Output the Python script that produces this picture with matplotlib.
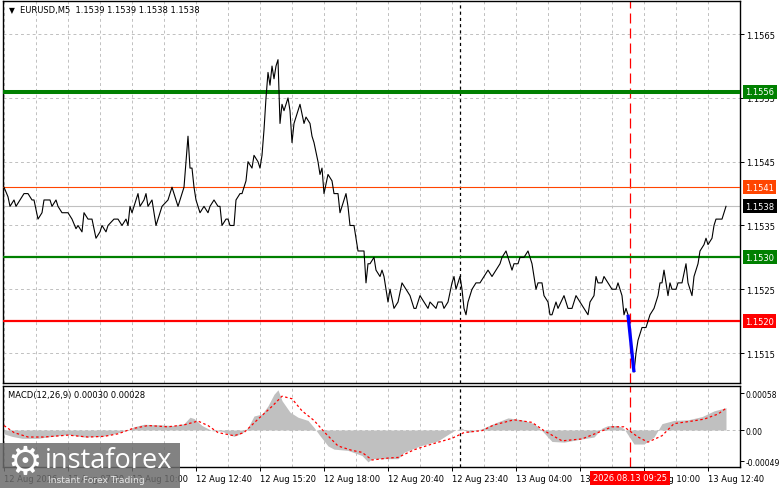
import numpy as np
import matplotlib
matplotlib.use("Agg")
import matplotlib.pyplot as plt
from matplotlib.patches import Rectangle
from matplotlib.transforms import blended_transform_factory

plt.rcParams['font.family'] = ['DejaVu Sans']
plt.rcParams['font.size'] = 6

W, H = 781, 489

# close prices (5-minute bar index -> price)
price_bar = [0, 2, 3, 5, 6, 8, 10, 12, 14, 15,
             17, 19, 20, 23, 24, 26, 27, 29, 32, 34,
             36, 37, 39, 40, 42, 44, 46, 48, 49, 51,
             52, 55, 57, 59, 61, 62, 63, 64, 66, 67,
             68, 70, 71, 72, 74, 75, 76, 78, 79, 82,
             84, 85, 87, 88, 90, 91, 92, 93, 94, 95,
             96, 98, 100, 102, 103, 105, 107, 108, 109, 111,
             112, 113, 115, 116, 118, 119, 121, 122, 124, 125,
             127, 128, 129, 130, 131, 132, 133, 134, 135, 136,
             137, 138, 139, 140, 142, 143, 144, 145, 147, 148,
             150, 151, 153, 154, 155, 157, 158, 159, 160, 162,
             164, 165, 167, 168, 170, 171, 172, 173, 175, 176,
             177, 180, 181, 182, 183, 185, 186, 188, 189, 190,
             192, 193, 195, 197, 199, 201, 203, 205, 206, 208,
             210, 212, 213, 216, 217, 219, 220, 222, 224, 225,
             226, 228, 229, 230, 231, 232, 234, 236, 238, 240,
             242, 244, 246, 248, 249, 251, 252, 253, 254, 255,
             257, 258, 260, 262, 264, 265, 266, 267, 269, 270,
             272, 273, 274, 276, 277, 280, 282, 284, 286, 288,
             290, 292, 293, 295, 296, 297, 299, 300, 302, 304,
             306, 307, 309, 310, 311, 312, 313, 314, 315, 316,
             317, 318, 319, 321, 322, 323, 325, 327, 328, 329,
             330, 332, 333, 334, 336, 337, 339, 341, 342, 343,
             344, 345, 347, 348, 350, 351, 352, 354, 355, 356,
             359, 360, 361]
price_close = [1.1541, 1.15395, 1.1538, 1.1539, 1.1538, 1.1539, 1.1540, 1.1540, 1.1539, 1.1539,
               1.1536, 1.1537, 1.1539, 1.1539, 1.1538, 1.1539, 1.1538, 1.1537, 1.1537, 1.1536,
               1.15345, 1.1535, 1.1534, 1.1537, 1.1536, 1.1536, 1.1533, 1.1534, 1.1535, 1.1534,
               1.1535, 1.1536, 1.1536, 1.1535, 1.1536, 1.1535, 1.1538, 1.1537, 1.1539, 1.1540,
               1.1538, 1.1539, 1.1540, 1.1538, 1.1539, 1.1537, 1.1535, 1.1537, 1.1538, 1.1539,
               1.1541, 1.1540, 1.1538, 1.1539, 1.1541, 1.1545, 1.1549, 1.1544, 1.1544, 1.1541,
               1.1539, 1.1537, 1.1538, 1.1537, 1.1538, 1.1539, 1.1538, 1.1538, 1.1535, 1.1536,
               1.1536, 1.1535, 1.1535, 1.1539, 1.1540, 1.1540, 1.1542, 1.1545, 1.1544, 1.1546,
               1.1545, 1.1544, 1.1546, 1.1550, 1.1555, 1.1559, 1.1557, 1.1560, 1.1558, 1.1560,
               1.1561, 1.1551, 1.1554, 1.1553, 1.1555, 1.1553, 1.1548, 1.1551, 1.1553, 1.1554,
               1.1551, 1.1552, 1.1551, 1.1549, 1.1548, 1.1545, 1.1543, 1.1544, 1.1540, 1.1543,
               1.1542, 1.1540, 1.1540, 1.1537, 1.1539, 1.1540, 1.1538, 1.1535, 1.1535, 1.1533,
               1.1531, 1.1531, 1.1526, 1.1529, 1.1529, 1.1530, 1.1528, 1.1527, 1.1528, 1.1527,
               1.1523, 1.1525, 1.1522, 1.1523, 1.1526, 1.1525, 1.1524, 1.1522, 1.1522, 1.1524,
               1.1523, 1.1522, 1.1523, 1.1522, 1.1523, 1.1523, 1.1522, 1.1523, 1.1526, 1.1527,
               1.1525, 1.1527, 1.1525, 1.1522, 1.1521, 1.1523, 1.1525, 1.1526, 1.1526, 1.1527,
               1.1528, 1.1527, 1.1528, 1.1529, 1.1530, 1.1531, 1.1530, 1.1529, 1.1528, 1.1529,
               1.1529, 1.1530, 1.1530, 1.1531, 1.1529, 1.1527, 1.1525, 1.1526, 1.1526, 1.1524,
               1.1523, 1.1521, 1.1521, 1.1523, 1.1522, 1.1524, 1.1522, 1.1522, 1.1524, 1.1523,
               1.1522, 1.1521, 1.1523, 1.1524, 1.1527, 1.1526, 1.1526, 1.1527, 1.1526, 1.1525,
               1.1525, 1.1526, 1.1524, 1.1521, 1.1522, 1.1521, 1.1518, 1.1515, 1.1512, 1.1515,
               1.1517, 1.1518, 1.1519, 1.1519, 1.1520, 1.1521, 1.1522, 1.1524, 1.1526, 1.1526,
               1.1528, 1.1524, 1.1526, 1.1525, 1.1525, 1.1526, 1.1526, 1.1529, 1.1526, 1.1525,
               1.1524, 1.1527, 1.1529, 1.1531, 1.1532, 1.1533, 1.1532, 1.1533, 1.1535, 1.1536,
               1.1536, 1.1537, 1.1538]

# highlighted bars around the signal time (drawn blue)
signal_bars = [312, 313, 314, 315]

# MACD histogram and signal line
hist_bar = [0, 4, 9, 17, 24, 32, 40, 49, 55, 62,
            65, 70, 79, 85, 90, 93, 95, 99, 104, 109,
            115, 119, 122, 125, 129, 132, 135, 137, 139, 143,
            147, 152, 155, 158, 162, 165, 172, 179, 182, 184,
            188, 197, 200, 208, 217, 225, 229, 232, 239, 244,
            252, 259, 265, 269, 274, 280, 289, 295, 299, 302,
            307, 310, 315, 320, 325, 329, 335, 342, 349, 355,
            361]
hist_val = [-0.00006, -0.00010, -0.00013, -0.00013, -0.00010, -0.00007, -0.00011, -0.00010, -0.00006, 0.0,
            0.00005, 0.00009, 0.00008, 0.00007, 0.00010, 0.00020, 0.00018, 0.00007, -0.00001, -0.00002,
            -0.00010, -0.00005, 0.00004, 0.00022, 0.00025, 0.00038, 0.00056, 0.00063, 0.00046, 0.00028,
            0.00020, 0.00015, 0.00004, -0.00009, -0.00025, -0.00030, -0.00032, -0.00040, -0.00050, -0.00045,
            -0.00045, -0.00045, -0.00035, -0.00025, -0.00017, -0.00001, 0.00003, -0.00004, 0.00002, 0.00009,
            0.00019, 0.00016, 0.00010, -0.00001, -0.00018, -0.00019, -0.00014, -0.00011, 0.00003, 0.00007,
            0.00007, 0.00002, -0.00022, -0.00022, -0.00011, 0.00010, 0.00015, 0.00016, 0.00021, 0.00030,
            0.00035]
sig_bar = [0, 5, 12, 20, 32, 42, 50, 57, 64, 72,
           82, 90, 97, 102, 107, 115, 120, 127, 134, 139,
           144, 149, 155, 161, 167, 174, 179, 184, 192, 197,
           205, 214, 224, 230, 239, 245, 255, 264, 270, 279,
           289, 297, 304, 310, 317, 322, 329, 335, 344, 350,
           357, 361]
sig_val = [0.00007, -0.00004, -0.00011, -0.00011, -0.00008, -0.00011, -0.00010, -0.00006, 0.00002, 0.00007,
           0.00005, 0.00008, 0.00014, 0.00007, -0.00004, -0.00009, -0.00004, 0.00017, 0.00037, 0.00053,
           0.00049, 0.00030, 0.00015, -0.00006, -0.00025, -0.00032, -0.00035, -0.00047, -0.00044, -0.00043,
           -0.00031, -0.00022, -0.00013, -0.00004, -0.00001, 0.00008, 0.00016, 0.00012, -0.00001, -0.00017,
           -0.00014, -0.00004, 0.00005, 0.00005, -0.00011, -0.00019, -0.00009, 0.00010, 0.00014, 0.00017,
           0.00025, 0.00034]

# x axis labels
time_ticks = [0, 32, 64, 96, 128, 160, 192, 224, 256, 288, 320, 352]
time_labels = ['12 Aug 2026', '12 Aug 07:20', '12 Aug 10:00', '12 Aug 12:40', '12 Aug 15:20',
               '12 Aug 18:00', '12 Aug 20:40', '12 Aug 23:40', '13 Aug 04:00', '13 Aug 06:40',
               '13 Aug 10:00', '13 Aug 12:40']
day_break_bar = 228
signal_time_bar = 313
signal_time_label = '2026.08.13 09:25'

price_ticks = [1.1515, 1.1525, 1.1535, 1.1545, 1.1555, 1.1565]
macd_ticks = [0.00058, 0.0, -0.00049]
macd_tick_labels = ['0.00058', '0.00', '-0.00049']

# horizontal levels: value, colour, width, label colour
levels = [(1.1556, '#008000', 2.9, '#008000'),
          (1.1541, '#ff4500', 0.8, '#ff4500'),
          (1.1530, '#008000', 1.6, '#008000'),
          (1.1520, '#ff0000', 1.6, '#ff0000')]
bid = 1.1538

GRID = '#c0c0c0'

fig = plt.figure(figsize=(W / 100, H / 100), dpi=100)
ax = fig.add_axes([3 / W, (H - 384) / H, 737 / W, 382 / H])
ax2 = fig.add_axes([3 / W, (H - 468) / H, 737 / W, 81 / H])

x_lo, x_hi = -0.5, 368
minor_ticks = list(range(16, 368, 32))

for a in (ax, ax2):
    a.set_xlim(x_lo, x_hi)
    a.set_xticks(time_ticks)
    a.set_xticks(minor_ticks, minor=True)
    a.grid(axis='x', which='both', color=GRID, ls=(0, (3, 3)), lw=0.7)
    a.yaxis.tick_right()
    a.tick_params(axis='y', direction='out', length=3, width=0.7, pad=1.5, labelsize=6)
    a.tick_params(axis='x', which='minor', length=0)
    for s in a.spines.values():
        s.set_linewidth(1.0)
    a.set_axisbelow(True)
    a.axvline(day_break_bar, color='black', ls=(0, (2.5, 2.5)), lw=0.9, zorder=1)
    a.axvline(signal_time_bar, color='red', ls=(0, (8, 4)), lw=0.9, zorder=1)

# main price panel
ax.set_ylim(1.15103, 1.15702)
ax.set_yticks(price_ticks)
ax.set_yticklabels([f'{v:.4f}' for v in price_ticks])
ax.grid(axis='y', color=GRID, ls=(0, (3, 3)), lw=0.7)
ax.tick_params(axis='x', which='both', length=0, labelbottom=False)

ax.axhline(bid, color='#c0c0c0', lw=0.8, zorder=2)
for val, col, lw, _ in levels:
    ax.axhline(val, color=col, lw=lw, zorder=3)

ax.plot(price_bar, price_close, color='black', lw=0.8, zorder=4)
i0 = price_bar.index(signal_bars[0])
i1 = price_bar.index(signal_bars[-1])
ax.plot(price_bar[i0:i1 + 1], price_close[i0:i1 + 1], color='#0000ff', lw=2.4,
        solid_capstyle='butt', zorder=5)

ytr = blended_transform_factory(ax.transAxes, ax.transData)
lx = 1 + 5 / 737
for val, _, _, lcol in levels:
    ax.text(lx, val, f'{val:.4f}', transform=ytr, color='white', fontsize=6,
            ha='left', va='center', zorder=10, clip_on=False,
            bbox=dict(boxstyle='square,pad=0.3', fc=lcol, ec='none'))
ax.text(lx, bid, f'{bid:.4f}', transform=ytr, color='white', fontsize=6,
        ha='left', va='center', zorder=10, clip_on=False,
        bbox=dict(boxstyle='square,pad=0.3', fc='black', ec='none'))

ax.text(6 / 737, 1 - 9 / 382, '\u25bc', transform=ax.transAxes, fontsize=5.5,
        ha='left', va='center')
ax.text(17 / 737, 1 - 9 / 382, 'EURUSD,M5  1.1539 1.1539 1.1538 1.1538',
        transform=ax.transAxes, fontsize=6, ha='left', va='center')

# MACD panel
ax2.set_ylim(-0.00058, 0.00069)
ax2.set_yticks(macd_ticks)
ax2.set_yticklabels(macd_tick_labels)
ax2.tick_params(axis='y', labelsize=5.5, pad=1)
ax2.axhline(0, color=GRID, ls=(0, (3, 3)), lw=0.7, zorder=0)
ax2.fill_between(hist_bar, 0, hist_val, color='#c0c0c0', lw=0, zorder=2)
ax2.plot(sig_bar, sig_val, color='red', ls=(0, (2, 2)), lw=0.9, zorder=3)
ax2.set_xticklabels(time_labels)
ax2.tick_params(axis='x', which='major', length=3, width=0.7, pad=2, labelsize=6)
for lab in ax2.get_xticklabels():
    lab.set_ha('left')
ax2.text(5 / 737, 1 - 9 / 81, 'MACD(12,26,9) 0.00030 0.00028', transform=ax2.transAxes,
         fontsize=6, ha='left', va='center')

xtr = blended_transform_factory(ax2.transData, ax2.transAxes)
ax2.text(signal_time_bar, -11 / 81, signal_time_label, transform=xtr, color='white',
         fontsize=6, ha='center', va='center', clip_on=False, zorder=10,
         bbox=dict(boxstyle='square,pad=0.35', fc='#ff0000', ec='none'))

# watermark
fig.add_artist(Rectangle((0, 0), 180 / W, 45 / H, transform=fig.transFigure,
                         fc='#6c6c6c', ec='none', alpha=0.85, zorder=20))
fig.text(25 / W, 1 - 463 / H, '\u2699', color='white', fontsize=28,
         ha='center', va='center', zorder=21)
fig.text(45 / W, 1 - 461 / H, 'instaforex', color='white', fontsize=19.5,
         family='Open Sans', ha='left', va='center', zorder=21)
fig.text(48 / W, 1 - 481 / H, 'Instant Forex Trading', color='#e8e8e8', fontsize=6.6,
         ha='left', va='center', zorder=21)

fig.savefig('out.png', dpi=100)
